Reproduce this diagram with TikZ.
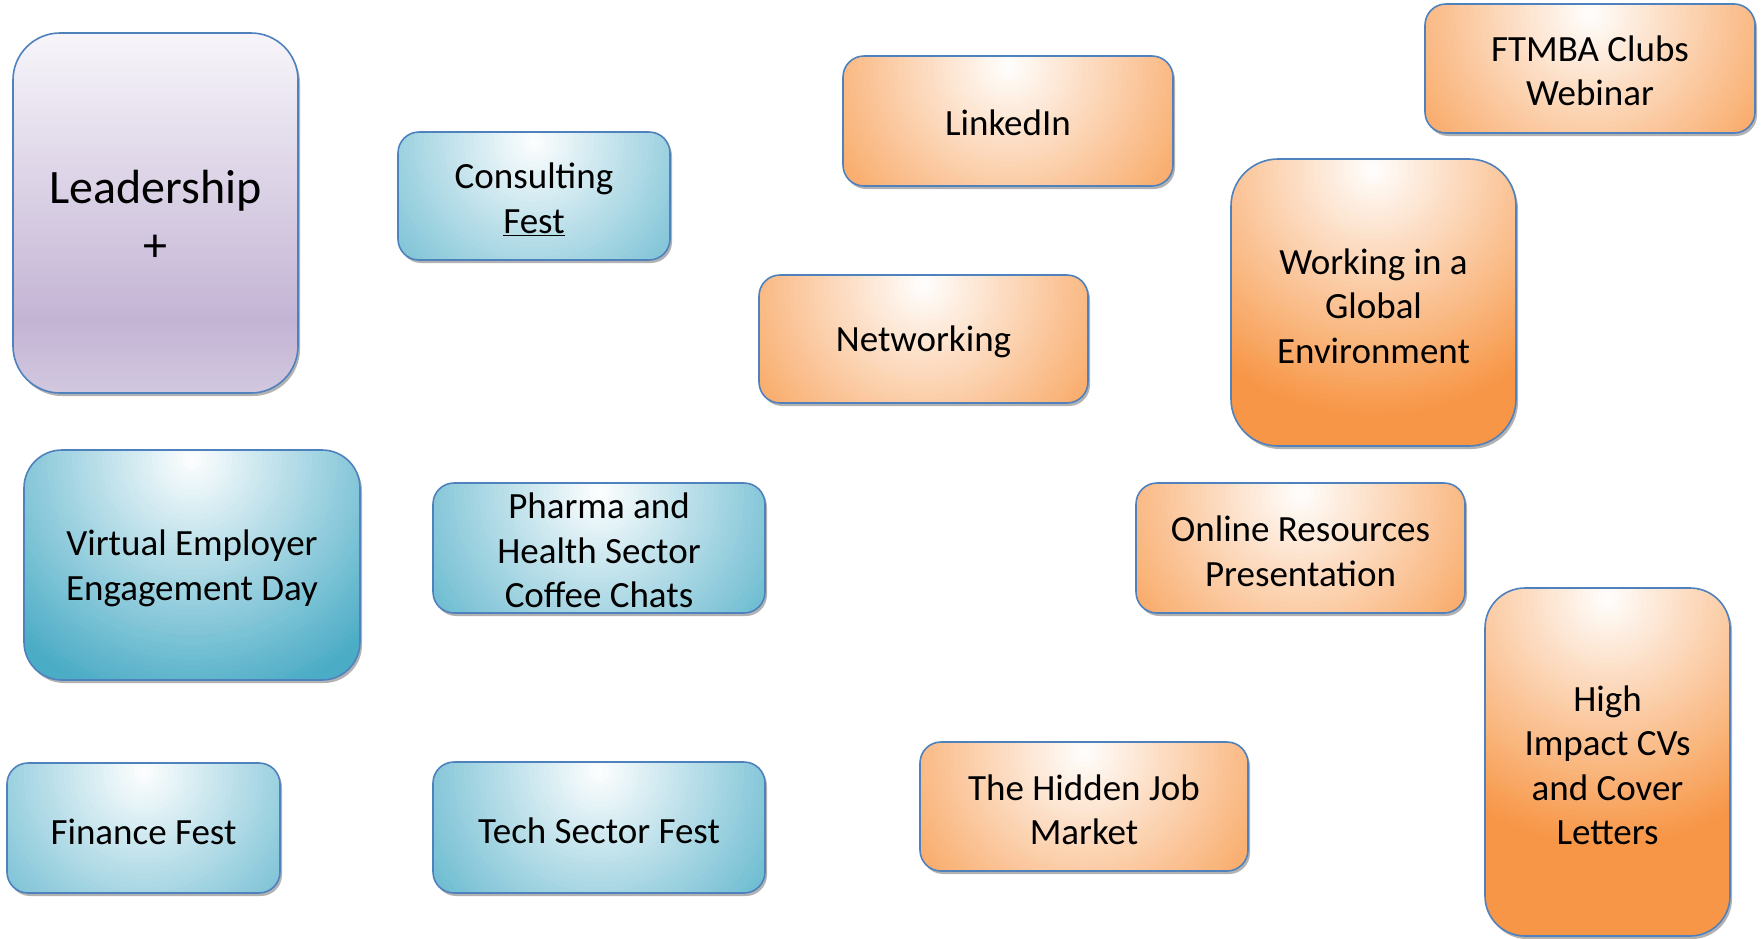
\documentclass[tikz,border=0pt]{standalone}
\usepackage{fontspec}
\setmainfont{Carlito}
\usetikzlibrary{shadows,calc}
\definecolor{tealc}{HTML}{4BACC6}
\definecolor{orgc}{HTML}{F79646}
\definecolor{bordc}{HTML}{4F81BD}
\definecolor{lptop}{HTML}{F7F5FA}
\definecolor{lpmid}{HTML}{C3B4D4}
\definecolor{lpbot}{HTML}{D2C8DF}
\pgfdeclareverticalshading{leadshade}{100bp}{color(0bp)=(lpbot); color(25bp)=(lpbot); color(35bp)=(lpmid); color(75bp)=(lptop); color(100bp)=(lptop)}
\tikzset{
  basebox/.style={draw=bordc, line width=1.6pt, inner sep=0pt,
    drop shadow={shadow xshift=2pt, shadow yshift=-3pt, opacity=0.3, fill=black}},
  glowbox/.style={basebox, path picture={
    \fill[#1] (path picture bounding box.south west) rectangle (path picture bounding box.north east);
    \coordinate (gc) at ($(path picture bounding box.north)+(0,10)$);
    \foreach \i in {50,49,...,1}{
      \pgfmathtruncatemacro\pct{100*\i/50}
      \fill[#1!\pct!white] (gc) circle [radius=\i*5pt];
    }
  }},
  tealbox/.style={glowbox=tealc},
  orgbox/.style={glowbox=orgc},
  leadbox/.style={basebox, path picture={
    \shade[shading=leadshade] (path picture bounding box.south west) rectangle (path picture bounding box.north east);
  }},
  txt/.style={align=center, inner sep=0pt, text=black, font=\fontsize{37}{44.5}\selectfont},
  bigtxt/.style={txt, font=\fontsize{48}{58}\selectfont}
}
\begin{document}
\begin{tikzpicture}[x=1pt,y=-1pt]
\useasboundingbox (0,0) rectangle (1763,938);
\node[leadbox, minimum width=285, minimum height=360, rounded corners=47] (lead) at (155.5,213) {};
\node[tealbox, minimum width=272, minimum height=128, rounded corners=21] (cons) at (534,196) {};
\node[orgbox, minimum width=330, minimum height=130, rounded corners=21] (linked) at (1008,121) {};
\node[orgbox, minimum width=330, minimum height=129, rounded corners=21] (ftmba) at (1590,68.5) {};
\node[orgbox, minimum width=329, minimum height=128, rounded corners=21] (netw) at (923.5,339) {};
\node[orgbox, minimum width=285, minimum height=287, rounded corners=47] (global) at (1373.5,302.5) {};
\node[tealbox, minimum width=336, minimum height=230, rounded corners=38] (virt) at (192,565) {};
\node[tealbox, minimum width=332, minimum height=130, rounded corners=21] (pharma) at (599,548) {};
\node[orgbox, minimum width=329, minimum height=130, rounded corners=21] (online) at (1300.5,548) {};
\node[tealbox, minimum width=273, minimum height=130, rounded corners=21] (finance) at (143.5,828) {};
\node[tealbox, minimum width=332, minimum height=131, rounded corners=21] (tech) at (599,827.5) {};
\node[orgbox, minimum width=328, minimum height=129, rounded corners=21] (hidden) at (1084,806.5) {};
\node[orgbox, minimum width=245, minimum height=348, rounded corners=40] (high) at (1607.5,762) {};
% texts
\node[bigtxt] (lead-t) at ([yshift=-3pt]lead.center) {Leadership\\+};
\node[txt] (cons-t) at ([yshift=-3.5pt]cons.center) {Consulting\\\underline{Fest}};
\node[txt] (linked-t) at ([yshift=-2pt]linked.center) {LinkedIn};
\node[txt] (ftmba-t) at ([yshift=-2.5pt]ftmba.center) {FTMBA Clubs\\Webinar};
\node[txt] (netw-t) at ([yshift=-3pt]netw.center) {Networking};
\node[txt] (global-t) at ([yshift=-3.5pt]global.center) {Working in a\\Global\\Environment};
\node[txt] (virt-t) at ([yshift=-3.5pt]virt.center) {Virtual Employer\\Engagement Day};
\node[txt] (pharma-t) at ([yshift=-2.5pt]pharma.center) {Pharma and\\Health Sector\\Coffee Chats};
\node[txt] (online-t) at ([yshift=-3.5pt]online.center) {Online Resources\\Presentation};
\node[txt] (finance-t) at ([yshift=-3.5pt]finance.center) {Finance Fest};
\node[txt] (tech-t) at ([yshift=-3.5pt]tech.center) {Tech Sector Fest};
\node[txt] (hidden-t) at ([yshift=-3.5pt]hidden.center) {The Hidden Job\\Market};
\node[txt] (high-t) at ([yshift=-3.5pt]high.center) {High\\Impact CVs\\and Cover\\Letters};
\end{tikzpicture}
\end{document}
